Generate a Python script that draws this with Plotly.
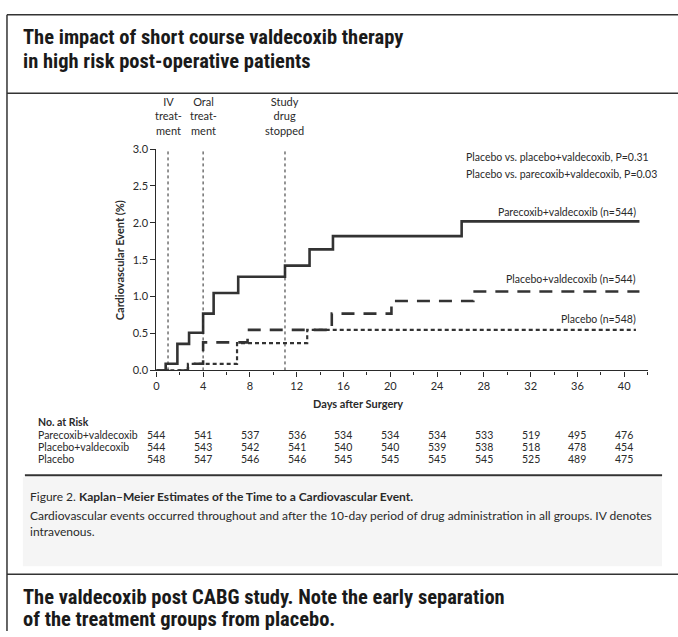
import plotly.graph_objects as go

W, H = 678, 637

# ---- data ----
par_days = [0, 0.8, 1.8, 2.8, 4.0, 4.9, 7.0, 11.0, 13.1, 15.1, 26.1, 41.3]
par_vals = [0, 0.09, 0.36, 0.51, 0.77, 1.05, 1.27, 1.42, 1.64, 1.82, 2.02, 2.02]

pv_days = [0, 2.7, 4.0, 7.8, 15.0, 20.1, 27.1, 41.3]
pv_vals = [0, 0.09, 0.38, 0.55, 0.77, 0.94, 1.07, 1.07]

pl_days = [0, 2.7, 6.9, 12.9, 41.0]
pl_vals = [0, 0.09, 0.37, 0.55, 0.55]

event_days = [1, 4, 11]
event_labels = ["IV<br>treat-<br>ment", "Oral<br>treat-<br>ment", "Study<br>drug<br>stopped"]

risk_days = [0, 4, 8, 12, 16, 20, 24, 28, 32, 36, 40]
risk_groups = ["Parecoxib+valdecoxib", "Placebo+valdecoxib", "Placebo"]
risk_par = [544, 541, 537, 536, 534, 534, 534, 533, 519, 495, 476]
risk_pv = [544, 543, 542, 541, 540, 540, 539, 538, 518, 478, 454]
risk_pl = [548, 547, 546, 546, 545, 545, 545, 545, 525, 489, 475]

x_ticks = [0, 4, 8, 12, 16, 20, 24, 28, 32, 36, 40]
y_ticks = [0.0, 0.5, 1.0, 1.5, 2.0, 2.5, 3.0]

# ---- helpers ----
def px(x):
    return x / W

def py(y):
    return 1 - y / H

FONT = "Lato, 'Open Sans', sans-serif"
TFONT = "'Roboto Condensed', 'Liberation Sans Narrow', 'DejaVu Sans Condensed', 'Liberation Sans', sans-serif"
INK = "#2a2a2a"

fig = go.Figure()

fig.add_trace(go.Scatter(x=par_days, y=par_vals, mode="lines", line_shape="hv",
                         line=dict(color="#333333", width=2.6), showlegend=False, hoverinfo="skip"))
fig.add_trace(go.Scatter(x=pv_days, y=pv_vals, mode="lines", line_shape="hv",
                         line=dict(color="#333333", width=2.6, dash="13px,9px"), showlegend=False, hoverinfo="skip"))
fig.add_trace(go.Scatter(x=pl_days, y=pl_vals, mode="lines", line_shape="hv",
                         line=dict(color="#333333", width=2.2, dash="4px,3px"), showlegend=False, hoverinfo="skip"))

x0, x1 = 154, 647.5
y0, y1 = 371, 145

fig.update_layout(
    width=W, height=H,
    margin=dict(l=0, r=0, t=0, b=0),
    paper_bgcolor="white", plot_bgcolor="white",
    showlegend=False,
    xaxis=dict(domain=[px(x0), px(x1)], range=[0, 42], showgrid=False, zeroline=False,
               showline=True, linecolor=INK, linewidth=1.2,
               ticks="outside", ticklen=5, tickcolor=INK, tickwidth=1,
               tickvals=x_ticks, ticktext=[str(t) for t in x_ticks],
               tickfont=dict(family=FONT, size=11, color=INK),
               minor=dict(tickvals=[2, 6, 10, 14, 18, 22, 26, 30, 34, 38, 42], ticks="outside",
                          ticklen=3, tickcolor=INK)),
    yaxis=dict(domain=[py(y0), py(y1)], range=[0, 3.0], showgrid=False, zeroline=False,
               showline=True, linecolor=INK, linewidth=1.2,
               ticks="outside", ticklen=5, tickcolor=INK, tickwidth=1,
               tickvals=y_ticks, ticktext=[f"{t:.1f}" for t in y_ticks],
               tickfont=dict(family=FONT, size=11, color=INK)),
)

shapes = []
# event reference lines
for d in event_days:
    shapes.append(dict(type="line", xref="x", yref="y", x0=d, x1=d, y0=0, y1=3.02,
                       line=dict(color=INK, width=1, dash="3px,3px")))

# frame lines
frame = dict(color="#333333", width=1.5)
shapes.append(dict(type="line", xref="paper", yref="paper", x0=px(4), x1=1, y0=py(8), y1=py(8), line=frame))
shapes.append(dict(type="line", xref="paper", yref="paper", x0=px(4), x1=px(4), y0=py(8), y1=0, line=frame))
shapes.append(dict(type="line", xref="paper", yref="paper", x0=px(4), x1=1, y0=py(88), y1=py(88), line=frame))
shapes.append(dict(type="line", xref="paper", yref="paper", x0=px(4), x1=1, y0=py(579), y1=py(579), line=frame))
# caption shading and separator
shapes.append(dict(type="rect", xref="paper", yref="paper", x0=px(20), x1=px(662), y0=py(571), y1=py(480),
                   fillcolor="#f5f5f5", line=dict(width=0), layer="below"))
shapes.append(dict(type="line", xref="paper", yref="paper", x0=px(22), x1=px(662), y0=py(478), y1=py(478),
                   line=dict(color="#333333", width=1.8)))
fig.update_layout(shapes=shapes)

ann = []
def text(x, y, s, size=11, anchor="left", family=FONT, bold=False, color=INK, **kw):
    if bold:
        s = f"<b>{s}</b>"
    ann.append(dict(xref="paper", yref="paper", x=px(x), y=py(y), text=s, showarrow=False,
                    xanchor=anchor, yanchor="middle", font=dict(family=family, size=size, color=color), **kw))

# titles
TS = 20.5
text(18, 31, "The impact of short course valdecoxib therapy", size=TS, family=TFONT, bold=True, color="#1a1a1a")
text(18, 55, "in high risk post-operative patients", size=TS, family=TFONT, bold=True, color="#1a1a1a")
text(18, 602, "The valdecoxib post CABG study. Note the early separation", size=TS, family=TFONT, bold=True, color="#1a1a1a")
text(18, 625, "of the treatment groups from placebo.", size=TS, family=TFONT, bold=True, color="#1a1a1a")

# event labels
for d, lab in zip(event_days, event_labels):
    ann.append(dict(xref="x", yref="paper", x=d, y=py(135), text=lab, showarrow=False,
                    xanchor="center", yanchor="bottom", align="center",
                    font=dict(family=FONT, size=11, color=INK)))

# p-values
text(463, 153, "Placebo vs. placebo+valdecoxib, P=0.31", size=10.5)
text(463, 170, "Placebo vs. parecoxib+valdecoxib, P=0.03", size=10.5)

# series labels
text(638, 209, "Parecoxib+valdecoxib (n=544)", size=10.5, anchor="right")
text(638, 278, "Placebo+valdecoxib (n=544)", size=10.5, anchor="right")
text(638, 318, "Placebo (n=548)", size=10.5, anchor="right")

# axis titles
text(357, 405, "Days after Surgery", size=11, anchor="center", bold=True)
ann.append(dict(xref="paper", yref="paper", x=px(117), y=py(258), text="<b>Cardiovascular Event (%)</b>",
                showarrow=False, textangle=-90, xanchor="center", yanchor="middle",
                font=dict(family=FONT, size=11, color=INK)))

# number at risk
text(33, 424, "No. at Risk", size=10.5, bold=True)
for row_y, name, vals in zip([437, 449, 461], risk_groups, [risk_par, risk_pv, risk_pl]):
    text(33, row_y, name, size=10.5)
    for d, v in zip(risk_days, vals):
        ann.append(dict(xref="x", yref="paper", x=d, y=py(row_y), text=str(v), showarrow=False,
                        xanchor="center", yanchor="middle", font=dict(family=FONT, size=10.5, color=INK)))

# caption
CS = 12
text(25, 500, "Figure 2. <b>Kaplan\u2013Meier Estimates of the Time to a Cardiovascular Event.</b>", size=CS)
text(25, 519, "Cardiovascular events occurred throughout and after the 10-day period of drug administration in all groups. IV denotes", size=CS)
text(25, 535, "intravenous.", size=CS)

fig.update_layout(annotations=ann)

fig.write_html("out.html", config={"displayModeBar": False},
               post_script="document.body.style.margin='0';document.body.style.overflow='hidden';")
